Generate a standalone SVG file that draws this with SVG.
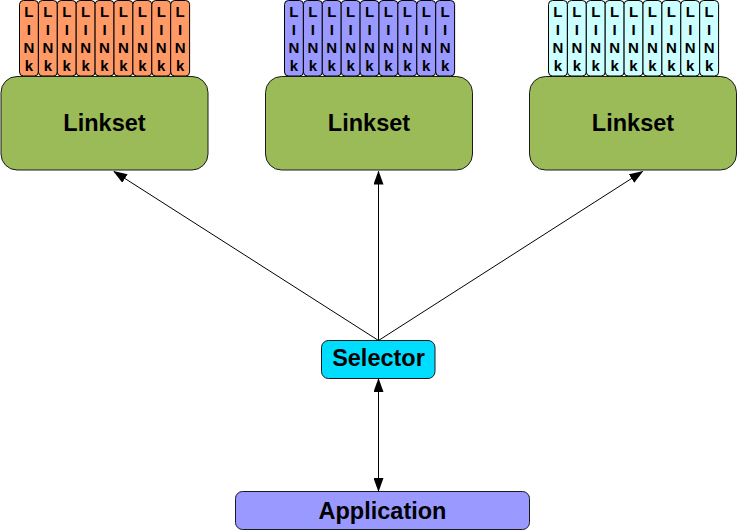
<svg xmlns="http://www.w3.org/2000/svg" width="738" height="530" viewBox="0 0 738 530">
<defs>
<style>
.box{stroke:#1a1a1a;stroke-width:1}
.ls{fill:#9BBB59}
.lk{stroke:#000;stroke-width:1}
.o{fill:#FF9966}.b{fill:#9999FF}.c{fill:#CCFFFF}
.lt{font-family:"Liberation Sans",Arial,sans-serif;font-weight:bold;font-size:15px;text-anchor:middle;fill:#000}
.t{font-family:"Liberation Sans",Arial,sans-serif;font-weight:bold;font-size:23.5px;text-anchor:middle;fill:#000}
.con{stroke:#000;stroke-width:1;fill:none}
</style>
<marker id="ah" markerWidth="14" markerHeight="10" refX="13" refY="5" orient="auto" markerUnits="userSpaceOnUse">
<path d="M0,0 L14,5 L0,10 Z" fill="#000"/>
</marker>
<marker id="as" markerWidth="14" markerHeight="10" refX="1" refY="5" orient="auto" markerUnits="userSpaceOnUse">
<path d="M14,0 L0,5 L14,10 Z" fill="#000"/>
</marker>
<g id="link">
<rect x="0" y="0.5" width="18.9" height="75.5" rx="4" class="lk"/>
<text x="9.45" y="17" class="lt">L</text>
<text x="9.45" y="34.5" class="lt">I</text>
<text x="9.45" y="53" class="lt">N</text>
<text x="9.45" y="71" class="lt">k</text>
</g>
</defs>
<rect width="738" height="530" fill="#fff"/>

<g id="links-1" class="o">
<use href="#link" x="19.5"/><use href="#link" x="38.4"/><use href="#link" x="57.3"/><use href="#link" x="76.2"/><use href="#link" x="95.1"/><use href="#link" x="114"/><use href="#link" x="132.9"/><use href="#link" x="151.8"/><use href="#link" x="170.7"/>
</g>
<g id="links-2" class="b">
<use href="#link" x="284.5"/><use href="#link" x="303.4"/><use href="#link" x="322.3"/><use href="#link" x="341.2"/><use href="#link" x="360.1"/><use href="#link" x="379"/><use href="#link" x="397.9"/><use href="#link" x="416.8"/><use href="#link" x="435.7"/>
</g>
<g id="links-3" class="c">
<use href="#link" x="548.5"/><use href="#link" x="567.4"/><use href="#link" x="586.3"/><use href="#link" x="605.2"/><use href="#link" x="624.1"/><use href="#link" x="643"/><use href="#link" x="661.9"/><use href="#link" x="680.8"/><use href="#link" x="699.7"/>
</g>

<g id="linkset-1">
<rect x="1" y="76.5" width="207" height="93.5" rx="16" class="box ls"/>
<text x="104.5" y="131" class="t">Linkset</text>
</g>
<g id="linkset-2">
<rect x="265.5" y="76.5" width="207" height="93.5" rx="16" class="box ls"/>
<text x="369" y="131" class="t">Linkset</text>
</g>
<g id="linkset-3">
<rect x="529.5" y="76.5" width="207" height="93.5" rx="16" class="box ls"/>
<text x="633" y="131" class="t">Linkset</text>
</g>

<g id="selector">
<rect x="321.5" y="340.5" width="113.5" height="38" rx="7" class="box" fill="#00DDFF"/>
<text x="378.5" y="366" class="t">Selector</text>
</g>
<g id="application">
<rect x="235.5" y="491.5" width="294" height="38" rx="7" class="box" fill="#9999FF"/>
<text x="382.5" y="518.5" class="t">Application</text>
</g>

<g id="connectors">
<line x1="378.5" y1="340.5" x2="114" y2="171.5" class="con" marker-end="url(#ah)"/>
<line x1="378.5" y1="340.5" x2="378.5" y2="171.5" class="con" marker-end="url(#ah)"/>
<line x1="378.5" y1="340.5" x2="642.5" y2="171.5" class="con" marker-end="url(#ah)"/>
<line x1="378.5" y1="379" x2="378.5" y2="491" class="con" marker-start="url(#as)" marker-end="url(#ah)"/>
</g>
</svg>
